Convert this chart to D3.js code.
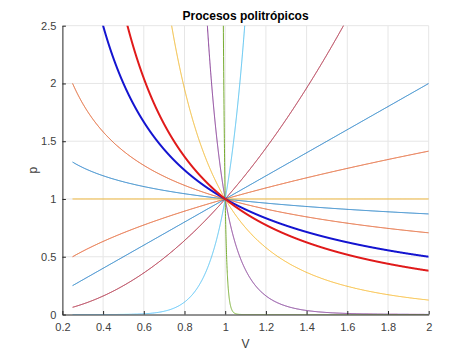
<!DOCTYPE html>
<html><head><meta charset="utf-8">
<script src="https://cdn.jsdelivr.net/npm/d3@7"></script>
<style>body{margin:0;background:#fff;}svg{display:block;font-family:"Liberation Sans",Arial,sans-serif;}</style>
</head><body>
<script>
// Polytropic exponents n in p*V^n = 1 (thin lines, in plotting order)
const thinExponents = [0.2, 0.5, 3, 10, 100, -10, -2, -1, -0.5, 0];
// Thick highlighted processes: isothermal (n=1) and adiabatic (n=1.4)
const thickExponents = [1, 1.4];
const volumeRange = [0.25, 2];
const xTicks = [0.2, 0.4, 0.6, 0.8, 1, 1.2, 1.4, 1.6, 1.8, 2];
const yTicks = [0, 0.5, 1, 1.5, 2, 2.5];

const palette = ["#0072BD","#D95319","#EDB120","#7E2F8E","#77AC30","#4DBEEE","#A2142F"];
const thickColors = ["#1414d0", "#e01a1a"];

const W = 474, H = 355;
const m = {l: 62.4, r: 474-428.7, t: 25.7, b: 355-314.5};
const svg = d3.select("body").append("svg").attr("width", W).attr("height", H);
const x = d3.scaleLinear().domain([0.2, 2]).range([m.l, W - m.r]);
const y = d3.scaleLinear().domain([0, 2.5]).range([H - m.b, m.t]);

svg.append("defs").append("clipPath").attr("id","clip")
  .append("rect").attr("x", m.l).attr("y", m.t).attr("width", x(2)-x(0.2)).attr("height", y(0)-y(2.5));

// grid
const g = svg.append("g");
g.selectAll(".gx").data(xTicks.slice(1)).join("line")
  .attr("x1", d=>x(d)).attr("x2", d=>x(d)).attr("y1", y(0)).attr("y2", y(2.5))
  .attr("stroke", "#e6e6e6").attr("stroke-width", 1);
g.selectAll(".gy").data(yTicks.slice(1)).join("line")
  .attr("y1", d=>y(d)).attr("y2", d=>y(d)).attr("x1", x(0.2)).attr("x2", x(2))
  .attr("stroke", "#e6e6e6").attr("stroke-width", 1);

// curves
const N = 6000;
const Vs = d3.range(N + 1).map(i => volumeRange[0] + (volumeRange[1] - volumeRange[0]) * i / N);
const line = d3.line().x(d => x(d[0])).y(d => y(d[1]));
function curve(n) {
  return Vs.map(v => [v, Math.max(-0.5, Math.min(3.5, Math.pow(v, -n)))]);
}
const plot = svg.append("g").attr("clip-path", "url(#clip)");
thinExponents.forEach((n, i) => {
  plot.append("path").attr("d", line(curve(n))).attr("fill","none")
    .attr("stroke", palette[i % palette.length]).attr("stroke-width", 1);
});
thickExponents.forEach((n, i) => {
  plot.append("path").attr("d", line(curve(n))).attr("fill","none")
    .attr("stroke", thickColors[i]).attr("stroke-width", 2);
});

// axes
const ax = svg.append("g").attr("transform", `translate(0,${y(0)})`)
  .call(d3.axisBottom(x).tickValues(xTicks).tickFormat(d3.format("~g")).tickSizeInner(-3.5).tickSizeOuter(0).tickPadding(9));
const ay = svg.append("g").attr("transform", `translate(${x(0.2)},0)`)
  .call(d3.axisLeft(y).tickValues(yTicks).tickFormat(d3.format("~g")).tickSizeInner(-3.5).tickSizeOuter(0).tickPadding(6));
[ax, ay].forEach(a => {
  a.selectAll("path,line").attr("stroke", "#262626");
  a.selectAll("text").attr("fill", "#404040").style("font-size", "11px").style("font-family", '"Liberation Sans",Arial,sans-serif');
});

svg.append("text").attr("x", (x(0.2)+x(2))/2).attr("y", 20).attr("text-anchor","middle")
  .style("font-weight","bold").style("font-size","12px").attr("fill","#000").text("Procesos politrópicos");
svg.append("text").attr("x", (x(0.2)+x(2))/2).attr("y", 348).attr("text-anchor","middle")
  .style("font-size","12px").attr("fill","#404040").text("V");
svg.append("text").attr("transform", `translate(37,${(y(0)+y(2.5))/2}) rotate(-90)`).attr("text-anchor","middle")
  .style("font-size","12px").attr("fill","#404040").text("p");
</script>
</body></html>
